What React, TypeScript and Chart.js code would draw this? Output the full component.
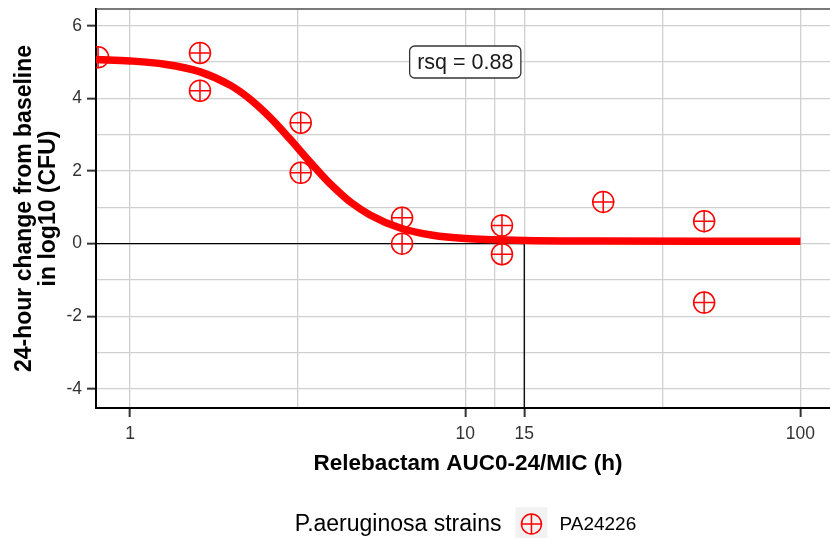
import React, { useEffect, useRef } from 'react';
import { Chart, registerables } from 'chart.js';

Chart.register(...registerables);

// ---- data ----
const STRAIN = 'PA24226';
const LEGEND_TITLE = 'P.aeruginosa strains';
const X_TITLE = 'Relebactam AUC0-24/MIC (h)';
const Y_TITLE = ['24-hour change from baseline', 'in log10 (CFU)'];
const RSQ_TEXT = 'rsq = 0.88';
const RSQ_X = 10;
const RSQ_Y = 5;

// observed points (AUC/MIC, change in log10 CFU)
const obsX = [0.803, 1.617, 1.617, 3.23, 3.23, 6.48, 6.48, 12.87, 12.87, 25.8, 51.6, 51.6];
const obsY = [5.13, 5.25, 4.21, 3.33, 1.95, 0.71, 0.0, 0.5, -0.29, 1.15, 0.62, -1.62];

// fitted curve
const fitX = [0.79, 1, 1.27, 1.62, 2, 2.28, 2.62, 3, 3.45, 3.95, 4.2, 4.54, 5.2, 6.4, 8, 10, 15, 25, 50, 100];
const fitY = [5.07, 5.03, 4.94, 4.73, 4.35, 3.98, 3.47, 2.88, 2.24, 1.65, 1.42, 1.15, 0.79, 0.43, 0.23, 0.14, 0.09, 0.075, 0.07, 0.07];

// reference (target) lines
const REF_X = 15;
const REF_Y = 0;

// axes
const X_MIN = 0.7917;
const X_MAX = 131.2;
const Y_MIN = -4.523;
const Y_MAX = 6.459;
const X_GRID = [1, 3.162, 10, 12.25, 15, 38.73, 100];
const X_LABELS = [1, 10, 15, 100];
const Y_GRID = [-4, -3, -2, -1, 0, 1, 2, 3, 4, 5, 6];
const Y_LABELS = [-4, -2, 0, 2, 4, 6];

const FONT = "'Liberation Sans', Arial, Helvetica, sans-serif";
const RED = '#FF0000';
const GRID = '#D0D0D0';
const TICK_TEXT = '#333333';
const TICK_MARK = '#333333';

const zeroPad = (s: any) => {
  s.paddingLeft = 0;
  s.paddingRight = 0;
  s.paddingTop = 0;
  s.paddingBottom = 0;
};

export default function App() {
  const ref = useRef<HTMLCanvasElement | null>(null);

  useEffect(() => {
    const canvas = ref.current;
    if (!canvas) return;

    const topLine = {
      id: 'topLine',
      beforeDatasetsDraw(chart: any) {
        const { ctx, chartArea } = chart;
        ctx.save();
        ctx.strokeStyle = '#4D4D4D';
        ctx.lineWidth = 1.5;
        ctx.beginPath();
        ctx.moveTo(chartArea.left, chartArea.top);
        ctx.lineTo(chartArea.right, chartArea.top);
        ctx.stroke();
        ctx.restore();
      },
    };

    const rsqLabel = {
      id: 'rsqLabel',
      afterDatasetsDraw(chart: any) {
        const { ctx, scales } = chart;
        const cx = scales.x.getPixelForValue(RSQ_X);
        const cy = scales.y.getPixelForValue(RSQ_Y);
        ctx.save();
        ctx.font = `21.5px ${FONT}`;
        const w = ctx.measureText(RSQ_TEXT).width + 15;
        const h = 32;
        ctx.beginPath();
        (ctx as any).roundRect(cx - w / 2, cy - h / 2, w, h, 5);
        ctx.fillStyle = '#FFFFFF';
        ctx.fill();
        ctx.strokeStyle = '#333333';
        ctx.lineWidth = 1.3;
        ctx.stroke();
        ctx.fillStyle = '#1A1A1A';
        ctx.textAlign = 'center';
        ctx.textBaseline = 'middle';
        ctx.fillText(RSQ_TEXT, cx, cy + 1);
        ctx.restore();
      },
    };

    const legend = {
      id: 'customLegend',
      afterDraw(chart: any) {
        const { ctx } = chart;
        ctx.save();
        const cy = chart.height - 13;
        ctx.font = `23px ${FONT}`;
        const tW = ctx.measureText(LEGEND_TITLE).width;
        ctx.font = `19px ${FONT}`;
        const lW = ctx.measureText(STRAIN).width;
        const gap1 = 14;
        const key = 32;
        const gap2 = 12;
        const total = tW + gap1 + key + gap2 + lW;
        const cx = 465.5;
        let x = cx - total / 2;
        ctx.fillStyle = '#000000';
        ctx.textBaseline = 'middle';
        ctx.textAlign = 'left';
        ctx.font = `23px ${FONT}`;
        ctx.fillText(LEGEND_TITLE, x, cy);
        x += tW + gap1;
        ctx.fillStyle = '#F2F2F2';
        ctx.fillRect(x, cy - 18, key, key);
        const kx = x + key / 2;
        const ky = cy - 1;
        ctx.strokeStyle = RED;
        ctx.lineWidth = 1.5;
        ctx.beginPath();
        ctx.arc(kx, ky, 10, 0, Math.PI * 2);
        ctx.moveTo(kx - 10.5, ky);
        ctx.lineTo(kx + 10.5, ky);
        ctx.moveTo(kx, ky - 10.5);
        ctx.lineTo(kx, ky + 10.5);
        ctx.stroke();
        x += key + gap2;
        ctx.fillStyle = '#000000';
        ctx.font = `19px ${FONT}`;
        ctx.fillText(STRAIN, x, cy);
        ctx.restore();
      },
    };

    const points = obsX.map((x, i) => ({ x, y: obsY[i] }));
    const curve = fitX.map((x, i) => ({ x, y: fitY[i] }));
    const refLine = [
      { x: X_MIN, y: REF_Y },
      { x: REF_X, y: REF_Y },
      { x: REF_X, y: Y_MIN },
    ];

    const chart = new Chart(canvas, {
      type: 'scatter',
      data: {
        datasets: [
          {
            label: STRAIN,
            data: points,
            pointStyle: 'circle',
            pointRadius: 10.5,
            pointBorderWidth: 1.5,
            borderColor: RED,
            backgroundColor: 'rgba(0,0,0,0)',
            clip: 0,
          } as any,
          {
            label: STRAIN + ' cross',
            data: points,
            pointStyle: 'cross',
            pointRadius: 11,
            pointBorderWidth: 1.5,
            borderColor: RED,
            backgroundColor: 'rgba(0,0,0,0)',
            clip: 0,
          } as any,
          {
            type: 'line',
            label: 'fit',
            data: curve,
            showLine: true,
            borderColor: RED,
            borderWidth: 7.5,
            borderJoinStyle: 'round',
            pointRadius: 0,
            cubicInterpolationMode: 'monotone',
            fill: false,
            clip: 0,
          } as any,
          {
            type: 'line',
            label: 'ref',
            data: refLine,
            showLine: true,
            borderColor: '#000000',
            borderWidth: 1.3,
            pointRadius: 0,
            tension: 0,
            fill: false,
            clip: 0,
          } as any,
        ],
      },
      options: {
        responsive: false,
        animation: false,
        devicePixelRatio: 1,
        layout: { autoPadding: false, padding: { top: 9, right: 0, bottom: 50, left: 0 } },
        plugins: {
          legend: { display: false },
          tooltip: { enabled: false },
        },
        events: [],
        scales: {
          x: {
            type: 'logarithmic',
            position: 'bottom',
            min: X_MIN,
            max: X_MAX,
            afterBuildTicks: (s: any) => {
              s.ticks = X_GRID.map((v) => ({ value: v }));
            },
            afterFit: (s: any) => {
              s.height = 80;
              zeroPad(s);
            },
            ticks: {
              autoSkip: false,
              maxRotation: 0,
              minRotation: 0,
              padding: 6.5,
              color: TICK_TEXT,
              font: { family: FONT, size: 17.5, lineHeight: 1.2 },
              callback: (v: any) => (X_LABELS.includes(Number(v)) ? String(v) : ''),
            },
            grid: {
              color: GRID,
              lineWidth: 1.3,
              tickLength: 9,
              tickWidth: 2,
              tickColor: (c: any) =>
                c.tick && X_LABELS.includes(c.tick.value) ? TICK_MARK : 'rgba(0,0,0,0)',
            },
            border: { display: true, color: '#000000', width: 2 },
            title: {
              display: true,
              text: X_TITLE,
              color: '#000000',
              font: { family: FONT, size: 22.5, weight: 'bold', lineHeight: 1.05 },
              padding: { top: 0, bottom: 12.2 },
            },
          } as any,
          y: {
            type: 'linear',
            min: Y_MIN,
            max: Y_MAX,
            afterBuildTicks: (s: any) => {
              s.ticks = Y_GRID.map((v) => ({ value: v }));
            },
            afterFit: (s: any) => {
              s.width = 96;
              zeroPad(s);
            },
            ticks: {
              padding: 5,
              color: TICK_TEXT,
              font: { family: FONT, size: 17.5, lineHeight: 1.2 },
              callback: (v: any) => (Y_LABELS.includes(Number(v)) ? String(v) : ''),
            },
            grid: {
              color: GRID,
              lineWidth: 1.3,
              tickLength: 9,
              tickWidth: 2,
              tickColor: (c: any) =>
                c.tick && Y_LABELS.includes(c.tick.value) ? TICK_MARK : 'rgba(0,0,0,0)',
            },
            border: { display: true, color: '#000000', width: 2 },
            title: {
              display: true,
              text: Y_TITLE,
              color: '#000000',
              font: { family: FONT, size: 23, weight: 'bold', lineHeight: 1.02 },
              padding: { top: 13, bottom: 0 },
            },
          } as any,
        },
      },
      plugins: [topLine, rsqLabel, legend],
    } as any);

    return () => chart.destroy();
  }, []);

  return (
    <div
      style={{
        position: 'fixed',
        left: 0,
        top: 0,
        width: 830,
        height: 538,
        overflow: 'hidden',
        background: '#FFFFFF',
      }}
    >
      <canvas ref={ref} width={840} height={538} style={{ display: 'block', width: 840, height: 538 }} />
    </div>
  );
}
